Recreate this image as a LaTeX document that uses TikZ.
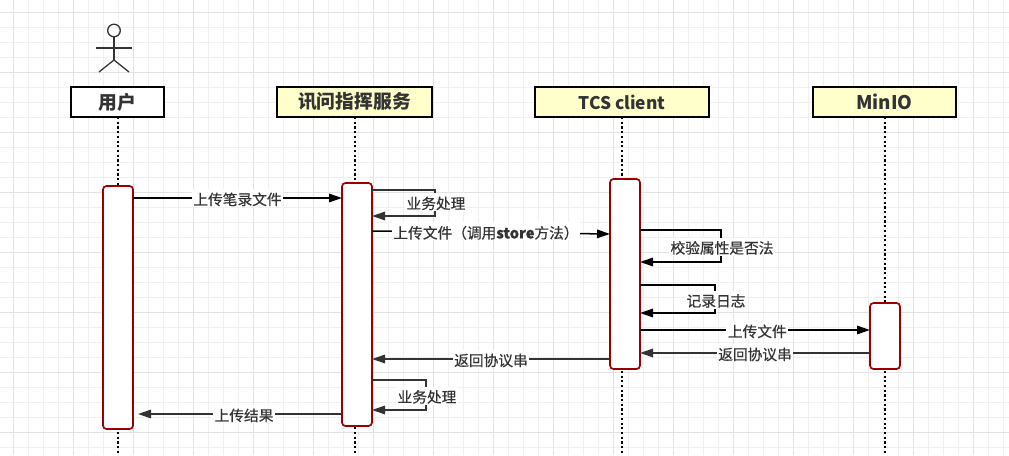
\documentclass[tikz,border=0pt]{standalone}
\usepackage{fontspec}
\setmainfont{Noto Sans CJK SC}
\newfontfamily\labfont[FakeBold=0.5]{Noto Sans CJK SC}
\usetikzlibrary{arrows.meta,calc}
\definecolor{gridminor}{HTML}{F0F0F0}
\definecolor{gridmajor}{HTML}{E2E2E2}
\definecolor{ink}{HTML}{333333}
\definecolor{boxyellow}{HTML}{FFFFCC}
\definecolor{actred}{HTML}{990000}
\tikzset{
  x=1pt,y=-1pt,
  head/.style={draw=black,line width=1.6pt,outer sep=0pt,minimum height=30pt,inner sep=0pt,anchor=north west,text=ink,font=\fontsize{18.8}{18}\selectfont\bfseries},
  life/.style={black,line width=1.8pt,dash pattern=on 2.2pt off 2.5pt},
  activ/.style={draw=actred,fill=white,line width=1.7pt,outer sep=0pt,rounded corners=3.5pt,minimum width=30pt,inner sep=0pt,anchor=north west},
  msg/.style={line width=1.5pt,-{Triangle[length=13pt,width=8.5pt]}},
  lab/.style={fill=white,inner xsep=1.5pt,inner ysep=0pt,text height=16pt,text depth=2pt,text=ink,font=\fontsize{14.7}{15}\labfont},
}
\begin{document}
\begin{tikzpicture}
\useasboundingbox (0,0) rectangle (1009,455);
\fill[white] (0,0) rectangle (1009,455);
\foreach \k in {0,...,67} \draw[gridminor,line width=.8pt] ({13+15*\k},0) -- ({13+15*\k},455);
\foreach \k in {0,...,30} \draw[gridminor,line width=.8pt] (0,{12.7+15*\k}) -- (1009,{12.7+15*\k});
\foreach \k in {0,...,16} \draw[gridmajor,line width=.8pt] ({13+60*\k},0) -- ({13+60*\k},455);
\foreach \k in {0,...,7} \draw[gridmajor,line width=.8pt] (0,{12.7+60*\k}) -- (1009,{12.7+60*\k});

% actor
\begin{scope}[ink,line width=1.3pt]
\draw (114,30.5) circle (6.3);
\draw (114,37) -- (114,60);
\draw (96,48) -- (132,48);
\draw (99,72) -- (114,60) -- (129,72);
\end{scope}

% heads
\node[head,fill=white,minimum width=93pt] (hA) at (71,87) {用户};
\node[head,fill=boxyellow,minimum width=155pt] (hB) at (277,87) {讯问指挥服务};
\node[head,fill=boxyellow,minimum width=174pt,font=\fontsize{17.4}{18}\selectfont\bfseries] (hC) at (535,87) {TCS client};
\node[head,fill=boxyellow,minimum width=143pt] (hD) at (813,87) {MinIO};

% lifeline ends
\coordinate (eA) at (118,455);
\coordinate (eB) at (355,455);
\coordinate (eC) at (622,455);
\coordinate (eD) at (885,455);
\draw[life] (eA |- hA.south) -- (eA);
\draw[life] (eB |- hB.south) -- (eB);
\draw[life] (eC |- hC.south) -- (eC);
\draw[life] (eD |- hD.south) -- (eD);

% activations
\node[activ,minimum height=243pt] (aA) at (103,186) {};
\node[activ,minimum height=243pt] (aB) at (342,183) {};
\node[activ,minimum height=190pt] (aC) at (610,179) {};
\node[activ,minimum height=66pt] (aD) at (870,303) {};

% message rows
\coordinate (m1) at (0,198);
\coordinate (m2a) at (0,190);
\coordinate (m2b) at (0,216);
\coordinate (m3a) at (0,231);
\coordinate (m3b) at (0,234);
\coordinate (m4a) at (0,230);
\coordinate (m4b) at (0,262);
\coordinate (m5a) at (0,285);
\coordinate (m5b) at (0,313);
\coordinate (m6) at (0,330);
\coordinate (m7) at (0,353);
\coordinate (m8) at (0,359);
\coordinate (m9a) at (0,380);
\coordinate (m9b) at (0,410);
\coordinate (m10) at (0,414);

% self-call turning points
\coordinate (s2) at (435,0);
\coordinate (s4) at (721,0);
\coordinate (s5) at (715,0);
\coordinate (s9) at (426,0);

\draw[msg,black] (aA.east |- m1) -- node[lab,pos=.5] (l1) {上传笔录文件} (aB.west |- m1);

\draw[msg,ink] (aB.east |- m2a) -- (s2 |- m2a) -- (s2 |- m2b) -- (aB.east |- m2b);
\node[lab] (l2) at (436,202) {业务处理};

\draw[msg,black] (aB.east |- m3a) -- node[lab,pos=.479,yshift=1pt] (l3) {上传文件（调用{\bfseries store}方法）} (aC.west |- m3b);

\draw[msg,black] (aC.east |- m4a) -- (s4 |- m4a) -- (s4 |- m4b) -- (aC.east |- m4b);
\node[lab] (l4) at (722,246.5) {校验属性是否法};

\draw[msg,black] (aC.east |- m5a) -- (s5 |- m5a) -- (s5 |- m5b) -- (aC.east |- m5b);
\node[lab] (l5) at (716,299.5) {记录日志};

\draw[msg,black] (aC.east |- m6) -- node[lab,pos=.51] (l6) {上传文件} (aD.west |- m6);
\draw[msg,ink] (aD.west |- m7) -- node[lab,pos=.5] (l7) {返回协议串} (aC.east |- m7);
\draw[msg,ink] (aC.west |- m8) -- node[lab,pos=.5] (l8) {返回协议串} (aB.east |- m8);

\draw[msg,ink] (aB.east |- m9a) -- (s9 |- m9a) -- (s9 |- m9b) -- (aB.east |- m9b);
\node[lab] (l9) at (427,395.5) {业务处理};

\draw[msg,ink] (aB.west |- m10) -- node[lab,pos=.48] (l10) {上传结果} ($(aA.east |- m10)+(5,0)$);
\end{tikzpicture}
\end{document}
